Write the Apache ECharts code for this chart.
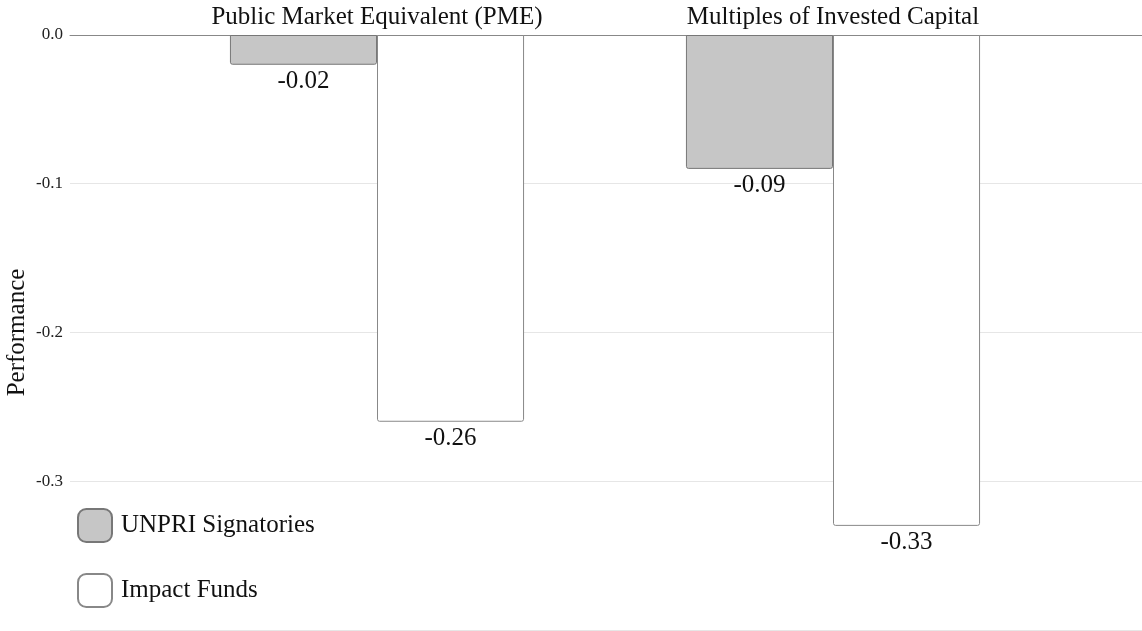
<!DOCTYPE html>
<html>
<head>
<meta charset="utf-8">
<script src="https://cdn.jsdelivr.net/npm/echarts@6/dist/echarts.min.js"></script>
<style>html,body{margin:0;padding:0;background:#fff}#c{width:1142px;height:631px}</style>
</head>
<body>
<div id="c"></div>
<script>
const categories = ['Public Market Equivalent (PME)', 'Multiples of Invested Capital'];
const unpri = [-0.02, -0.09];
const impact = [-0.26, -0.33];
const seriesNames = ['UNPRI Signatories', 'Impact Funds'];
const yTicks = [0, -0.1, -0.2, -0.3, -0.4];

const font = '"Liberation Serif", "Times New Roman", serif';
const chart = echarts.init(document.getElementById('c'));
const labelFmt = p => p.value.toFixed(2);
chart.setOption({
  animation: false,
  grid: [
    {left: 70, right: 0, top: 35, height: 595, outerBoundsMode: 'none', containLabel: false},
    {left: 149, right: 81, top: 35, height: 595, outerBoundsMode: 'none', containLabel: false}
  ],
  xAxis: [
    {gridIndex: 0, type: 'category', data: [''], position: 'top',
     axisLine: {show: true, lineStyle: {color: '#888', width: 1}},
     axisTick: {show: false}, axisLabel: {show: false}, splitLine: {show: false}},
    {gridIndex: 1, type: 'category', data: categories, position: 'top',
     axisLine: {show: false}, axisTick: {show: false},
     axisLabel: {fontFamily: font, fontSize: 25, color: '#111', margin: 5}}
  ],
  yAxis: [
    {gridIndex: 0, type: 'value', min: -0.4, max: 0, interval: 0.1,
     name: 'Performance', nameLocation: 'middle', nameGap: 40, nameMoveOverlap: false,
     nameTextStyle: {fontFamily: font, fontSize: 25, color: '#111'},
     axisLine: {show: false}, axisTick: {show: false},
     axisLabel: {fontFamily: font, fontSize: 17, color: '#222', margin: 7,
       formatter: v => yTicks.indexOf(v) >= 0 && v > -0.4 ? v.toFixed(1) : ''},
     splitLine: {show: true, lineStyle: {color: '#e6e6e6', width: 1}}},
    {gridIndex: 1, type: 'value', min: -0.4, max: 0, interval: 0.1,
     axisLine: {show: false}, axisTick: {show: false}, axisLabel: {show: false},
     splitLine: {show: false}}
  ],
  legend: {
    orient: 'vertical', left: 72, top: 503,
    itemWidth: 34, itemHeight: 33, itemGap: 30,
    icon: 'roundRect',
    textStyle: {fontFamily: font, fontSize: 25, color: '#111', padding: [0, 0, 0, 4]},
    data: seriesNames
  },
  series: [
    {name: seriesNames[0], type: 'bar', xAxisIndex: 1, yAxisIndex: 1, data: unpri,
     barGap: '0%', barCategoryGap: '35.5%',
     itemStyle: {color: '#c6c6c6', borderColor: '#777', borderWidth: 1, borderRadius: [0, 0, 2, 2]},
     label: {show: true, position: 'bottom', distance: 4, fontFamily: font, fontSize: 25, color: '#111', formatter: labelFmt}},
    {name: seriesNames[1], type: 'bar', xAxisIndex: 1, yAxisIndex: 1, data: impact,
     barGap: '0%', barCategoryGap: '35.5%',
     itemStyle: {color: '#ffffff', borderColor: '#888', borderWidth: 1, borderRadius: [0, 0, 2, 2]},
     label: {show: true, position: 'bottom', distance: 4, fontFamily: font, fontSize: 25, color: '#111', formatter: labelFmt}}
  ]
});
</script>
</body>
</html>
